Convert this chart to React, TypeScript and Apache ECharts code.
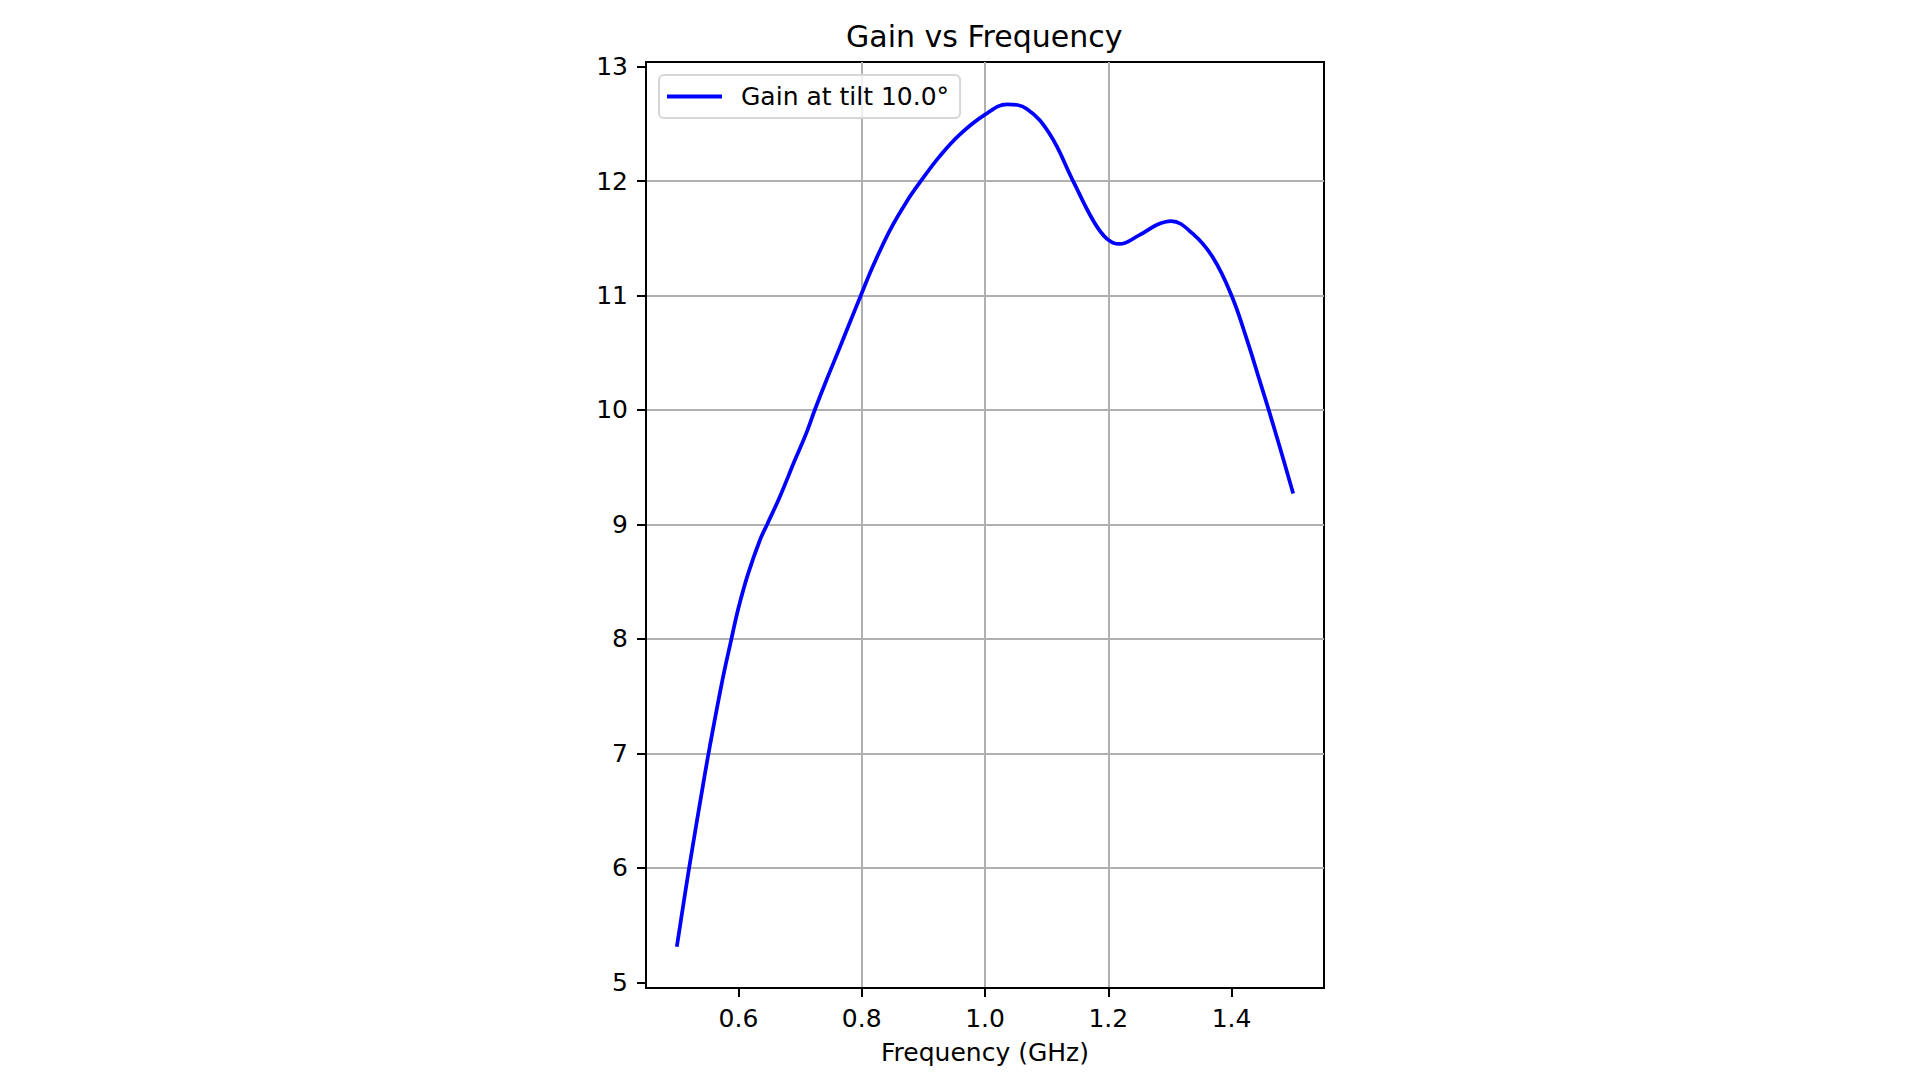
import React, { useEffect, useRef } from "react";
import * as echarts from "echarts";

const titleText = "Gain vs Frequency";
const xAxisName = "Frequency (GHz)";
const seriesName = "Gain at tilt 10.0°";

const freqGHz = [
  0.5, 0.52, 0.544, 0.5535, 0.574, 0.5886, 0.6, 0.6157, 0.6346, 0.6465, 0.667,
  0.6914, 0.7103, 0.7238, 0.7427, 0.764, 0.7804, 0.8, 0.8185, 0.8457, 0.8728,
  0.8946, 0.927, 0.9598, 1.0, 1.036, 1.068, 1.105, 1.143, 1.175, 1.197, 1.218,
  1.251, 1.28, 1.302, 1.337, 1.37, 1.4, 1.424, 1.446, 1.462, 1.478, 1.5,
];
const gainDb = [
  5.31, 6.0, 6.77, 7.06, 7.64, 8.0, 8.27, 8.57, 8.86, 9.0, 9.24,
  9.56, 9.8, 10.0, 10.26, 10.54, 10.76, 11.02, 11.26, 11.57, 11.82,
  11.99, 12.22, 12.41, 12.58, 12.67, 12.63, 12.41, 12.0, 11.66, 11.5, 11.45,
  11.53, 11.62, 11.65, 11.54, 11.33, 11.0, 10.63, 10.25, 9.97, 9.68, 9.27,
];

const xTicks = [0.6, 0.8, 1.0, 1.2, 1.4];
const yTicks = [5, 6, 7, 8, 9, 10, 11, 12, 13];

const FONT = "DejaVu Sans";

export default function App() {
  const ref = useRef<HTMLDivElement>(null);

  useEffect(() => {
    const chart = echarts.init(ref.current!, undefined, { renderer: "svg" });
    const axisCommon = {
      axisLine: { show: true, lineStyle: { color: "#000", width: 2 } },
      splitLine: {
        show: true,
        showMinLine: false,
        showMaxLine: false,
        lineStyle: { color: "#b0b0b0", width: 2 },
      },
    };
    chart.setOption({
      animation: false,
      backgroundColor: "#ffffff",
      textStyle: { fontFamily: FONT },
      title: {
        text: titleText,
        left: 846,
        top: 21,
        padding: 0,
        textStyle: {
          fontFamily: FONT,
          fontSize: 30,
          fontWeight: "normal",
          color: "#000",
        },
      },
      grid: {
        left: 646,
        right: 596,
        top: 62,
        bottom: 92,
        show: true,
        borderColor: "#000",
        borderWidth: 2,
        backgroundColor: "transparent",
        containLabel: false,
        outerBoundsMode: "none",
      },
      legend: {
        show: true,
        left: 659,
        top: 75,
        orient: "horizontal",
        padding: [9, 11, 9, 8],
        itemWidth: 55,
        itemHeight: 4,
        icon: "rect",
        backgroundColor: "rgba(255,255,255,0.8)",
        borderColor: "#d6d6d6",
        borderWidth: 2,
        borderRadius: 5,
        itemStyle: { color: "#0000ff" },
        textStyle: {
          fontFamily: FONT,
          fontSize: 25,
          color: "#000",
          padding: [0, 0, 0, 14],
        },
        data: [{ name: seriesName, icon: "rect" }],
      },
      xAxis: {
        type: "value",
        min: 0.45,
        max: 1.55,
        name: xAxisName,
        nameLocation: "middle",
        nameGap: 52,
        nameTextStyle: { fontFamily: FONT, fontSize: 25, color: "#000" },
        ...axisCommon,
        axisTick: {
          show: true,
          length: 9,
          customValues: xTicks,
          lineStyle: { color: "#000", width: 2 },
        },
        axisLabel: {
          show: true,
          margin: 18,
          fontFamily: FONT,
          fontSize: 25,
          color: "#000",
          customValues: xTicks,
          formatter: (v: number) => v.toFixed(1),
        },
      },
      yAxis: {
        type: "value",
        min: 4.95,
        max: 13.04,
        ...axisCommon,
        axisTick: {
          show: true,
          length: 9,
          customValues: yTicks,
          lineStyle: { color: "#000", width: 2 },
        },
        axisLabel: {
          show: true,
          margin: 18,
          fontFamily: FONT,
          fontSize: 25,
          color: "#000",
          customValues: yTicks,
          formatter: (v: number) => String(Math.round(v)),
        },
      },
      series: [
        {
          type: "line",
          name: seriesName,
          data: freqGHz.map((f, i) => [f, gainDb[i]]),
          symbol: "none",
          showSymbol: false,
          smooth: 0.4,
          lineStyle: { color: "#0000ff", width: 3.75 },
          itemStyle: { color: "#0000ff" },
          z: 3,
        },
      ],
    });
    return () => chart.dispose();
  }, []);

  return (
    <div
      ref={ref}
      style={{
        position: "fixed",
        left: 0,
        top: 0,
        width: 1920,
        height: 1080,
        background: "#fff",
      }}
    />
  );
}
